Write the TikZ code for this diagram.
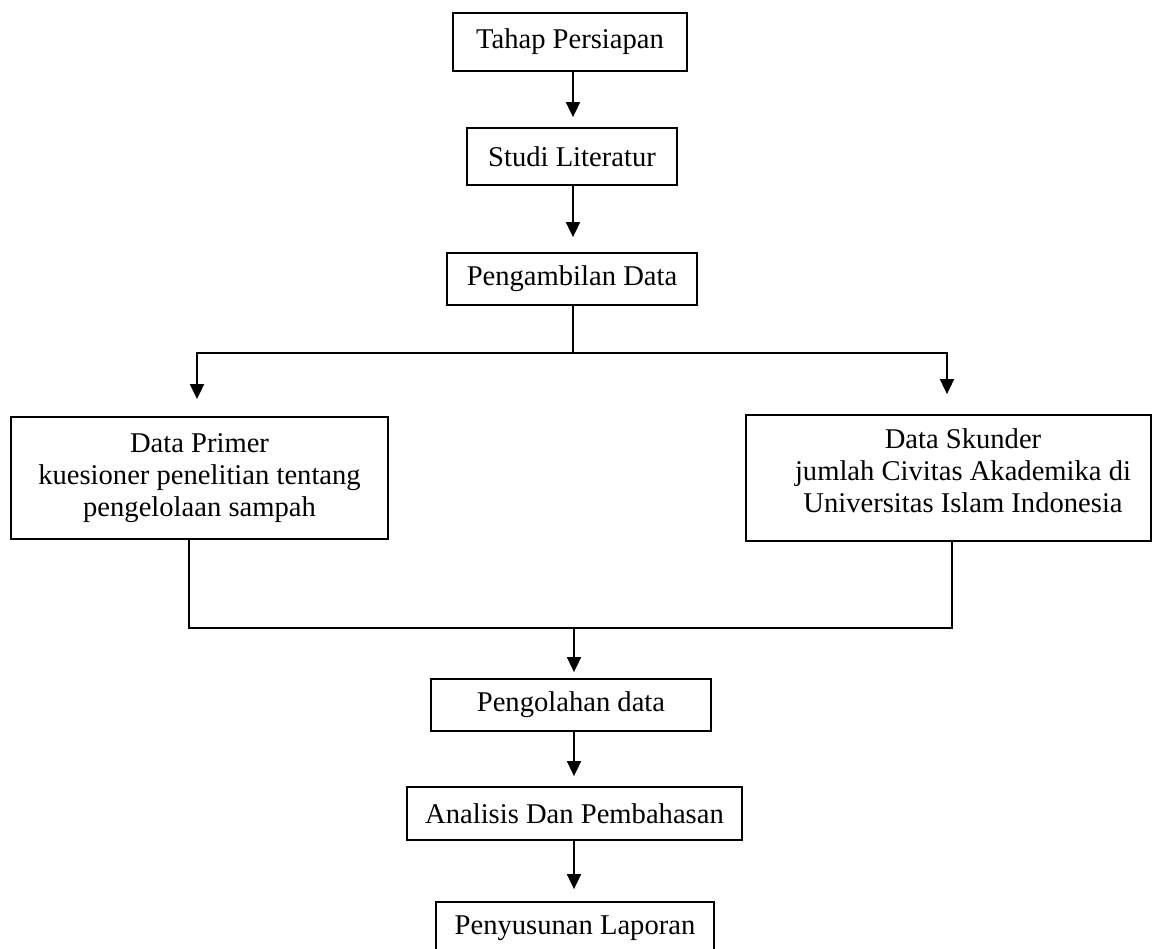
\documentclass[tikz,border=0pt]{standalone}
\usepackage{fontspec}
\setmainfont{Liberation Serif}
\usetikzlibrary{arrows.meta,calc}
\tikzset{
  box/.style={draw, line width=0.9pt, inner sep=0pt, align=center,
    font=\fontsize{14.3}{16}\selectfont},
  txt/.style={inner sep=0pt, align=center, font=\fontsize{14.3}{16}\selectfont},
  conn/.style={line width=0.9pt},
  arr/.style={line width=0.9pt, -{Triangle[length=7.5pt,width=7pt]}}
}
\begin{document}
\begin{tikzpicture}[x=0.5pt,y=-0.5pt]
\useasboundingbox (0,0) rectangle (1153,949);
\clip (0,0) rectangle (1153,949);
\fill[white] (0,0) rectangle (1153,949);
% boxes
\node[box, minimum width=117pt, minimum height=29pt] (tahap) at (570,42) {Tahap Persiapan};
\node[box, minimum width=105pt, minimum height=28.5pt] (studi) at (572,156.5) {Studi Literatur};
\node[box, minimum width=125pt, minimum height=26pt] (ambil) at (572,279) {Pengambilan Data};
\node[box, minimum width=188.5pt, minimum height=61pt] (primer) at (199.5,478)
  {Data Primer\\kuesioner penelitian tentang\\pengelolaan sampah};
\node[box, minimum width=202.5pt, minimum height=63pt] (skunder) at (948.5,478) {};
\node[txt] (skundertxt) at (963,471) {Data Skunder\\jumlah Civitas Akademika di\\Universitas Islam Indonesia};
\node[box, minimum width=140pt, minimum height=26pt] (olah) at (571,705) {Pengolahan data};
\node[box, minimum width=167.5pt, minimum height=26.5pt] (analisis) at (574.5,813.5) {Analisis Dan Pembahasan};
\node[box, minimum width=139pt, minimum height=26pt] (susun) at (575,928) {Penyusunan Laporan};
% helper coordinates
\coordinate (xm) at (573,0);
\coordinate (xa) at (574,0);
\coordinate (xl) at (197,0);
\coordinate (xr) at (947,0);
\coordinate (xlo) at (189,0);
\coordinate (xro) at (952,0);
\coordinate (split) at (573,353);
\coordinate (join) at (574,628);
% connectors
\draw[arr, shorten >=5pt] (tahap.south -| xm) -- (studi.north -| xm);
\draw[arr, shorten >=7.5pt] (studi.south -| xm) -- (ambil.north -| xm);
\draw[conn] (ambil.south -| xm) -- (split);
\draw[arr, shorten >=8.5pt] (split) -| (primer.north -| xl);
\draw[arr, shorten >=10pt] (split) -| (skunder.north -| xr);
\draw[conn] (primer.south -| xlo) |- (join);
\draw[conn] (skunder.south -| xro) |- (join);
\draw[arr, shorten >=3pt] (join) -- (olah.north -| xa);
\draw[arr, shorten >=5pt] (olah.south -| xa) -- (analisis.north -| xa);
\draw[arr, shorten >=6pt] (analisis.south -| xa) -- (susun.north -| xa);
\end{tikzpicture}
\end{document}
